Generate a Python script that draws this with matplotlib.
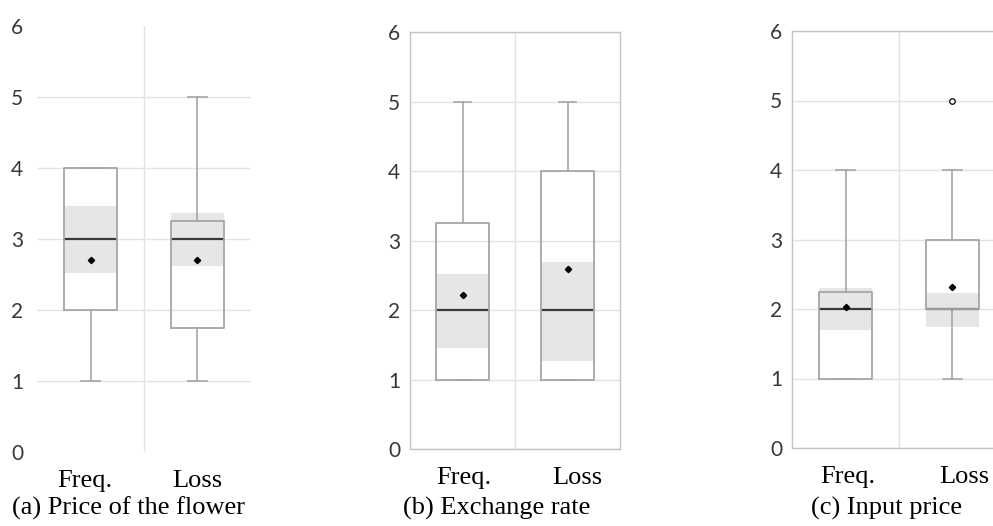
import matplotlib
matplotlib.use("Agg")
import matplotlib.pyplot as plt
import matplotlib.transforms as mtransforms

# ---------------- data ----------------
categories = ["Freq.", "Loss"]
panel_titles = ["(a) Price of the flower", "(b) Exchange rate", "(c) Input price"]

# per panel: [Freq, Loss]
q1 = [[2.0, 1.75], [1.0, 1.0], [1.0, 2.0]]
med = [[3.0, 3.0], [2.0, 2.0], [2.0, 2.0]]
q3 = [[4.0, 3.25], [3.25, 4.0], [2.25, 3.0]]
whis_lo = [[1.0, 1.0], [1.0, 1.0], [1.0, 1.0]]
whis_hi = [[4.0, 5.0], [5.0, 5.0], [4.0, 4.0]]
means = [[2.71, 2.70], [2.22, 2.59], [2.03, 2.31]]
ci_lo = [[2.52, 2.62], [1.45, 1.27], [1.70, 1.74]]
ci_hi = [[3.46, 3.37], [2.52, 2.69], [2.30, 2.23]]
fliers = [[[], []], [[], []], [[], [5.0]]]

yticks = [0, 1, 2, 3, 4, 5, 6]

# ---------------- layout ----------------
W, H = 993, 526
fig = plt.figure(figsize=(W / 100, H / 100), dpi=100)

# axes boxes in pixels: left, right, top, bottom
boxes_px = [(37, 251, 26, 452), (410, 620, 32, 449), (792, 1006, 31, 448)]
xlab_offsets = [(-6, 0), (1, 10), (2, 12)]
caption_x = [129, 497, 887]
caption_y = 508

grid_c = "#e3e3e3"
spine_c = "#c4c4c4"
box_c = "#a6a6a6"
med_c = "#3a3a3a"
band_c = "#e6e6e6"
tick_c = "#383838"

positions = [0.5, 1.5]

for i in range(3):
    l, r, t, b = boxes_px[i]
    ax = fig.add_axes([l / W, 1 - b / H, (r - l) / W, (b - t) / H])
    ax.set_xlim(0, 2)
    ax.set_ylim(0, 6)

    # confidence band
    ax.bar(positions,
           [ci_hi[i][k] - ci_lo[i][k] for k in range(2)],
           bottom=ci_lo[i], width=0.5, color=band_c, zorder=1.5, linewidth=0)

    stats = []
    for k in range(2):
        stats.append(dict(med=med[i][k], q1=q1[i][k], q3=q3[i][k],
                          whislo=whis_lo[i][k], whishi=whis_hi[i][k],
                          mean=means[i][k], fliers=fliers[i][k], label=categories[k]))
    ax.bxp(stats, positions=positions, widths=0.5, capwidths=0.17,
           showmeans=True, showfliers=True, patch_artist=False,
           boxprops=dict(color=box_c, linewidth=1.3, zorder=3.2),
           whiskerprops=dict(color=box_c, linewidth=1.2, zorder=3),
           capprops=dict(color=box_c, linewidth=1.2, zorder=3),
           medianprops=dict(color=med_c, linewidth=1.6, zorder=3.0),
           meanprops=dict(marker="D", markersize=3.2, markerfacecolor="black",
                          markeredgecolor="black", zorder=4),
           flierprops=dict(marker="o", markersize=4, markerfacecolor="white",
                           markeredgecolor="black", markeredgewidth=0.9, zorder=4))

    ax.set_xlim(0, 2)
    ax.set_ylim(0, 6)
    ax.set_yticks(yticks)
    ax.set_yticklabels([str(v) for v in yticks], fontfamily="Lato", fontsize=15,
                       color=tick_c)
    ax.set_xticks(positions)
    ax.set_xticklabels(categories, fontfamily="Liberation Serif", fontsize=19,
                       color="black")
    ax.set_xticks([1], minor=True)
    ax.tick_params(axis="both", which="both", length=0)
    ax.tick_params(axis="y", pad=7 if i else 10)
    ax.tick_params(axis="x", pad=13)

    ax.grid(True, axis="y", color=grid_c, linewidth=1.0, zorder=0)
    ax.grid(True, axis="x", which="minor", color=grid_c, linewidth=1.0, zorder=0)
    ax.set_axisbelow(True)

    for k, lab in enumerate(ax.get_xticklabels()):
        off = mtransforms.ScaledTranslation(xlab_offsets[i][k] / 100, 0, fig.dpi_scale_trans)
        lab.set_transform(lab.get_transform() + off)

    if i == 0:
        for s in ax.spines.values():
            s.set_visible(False)
        gl = ax.yaxis.get_gridlines()
        gl[0].set_visible(False)
        gl[-1].set_visible(False)
    else:
        for s in ax.spines.values():
            s.set_color(spine_c)
            s.set_linewidth(1.0)

    fig.text(caption_x[i] / W, 1 - caption_y / H, panel_titles[i],
             fontfamily="Liberation Serif", fontsize=19, ha="center", va="center")

fig.savefig("out.png", dpi=100)
